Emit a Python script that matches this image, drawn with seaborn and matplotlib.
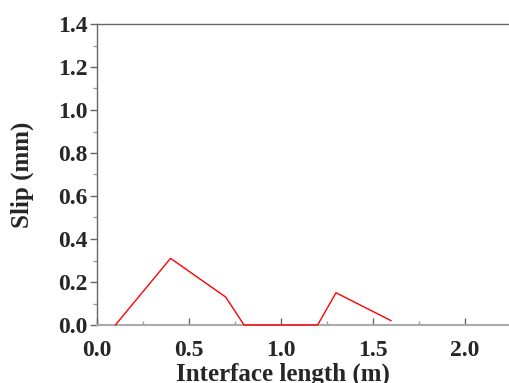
import matplotlib
matplotlib.use("Agg")
import matplotlib.pyplot as plt
import seaborn as sns
import pandas as pd
from matplotlib.ticker import MultipleLocator

x_vals = [0.1, 0.4, 0.7, 0.8, 1.2, 1.3, 1.6]
slip_vals = [0.0, 0.31, 0.13, 0.0, 0.0, 0.15, 0.02]
x_ticks = [0.0, 0.5, 1.0, 1.5, 2.0]
y_ticks = [0.0, 0.2, 0.4, 0.6, 0.8, 1.0, 1.2, 1.4]

sns.set_style("white")
plt.rcParams['font.family'] = ['Liberation Serif', 'DejaVu Serif']
plt.rcParams['font.weight'] = 'bold'

df = pd.DataFrame({"x": x_vals, "slip": slip_vals})

fig = plt.figure(figsize=(5.10, 3.83), dpi=100)
ax = fig.add_axes([97/510, 1 - 325/383, (510 - 97)/510 + 0.002, (325 - 24)/383])
sns.lineplot(data=df, x="x", y="slip", color="red", linewidth=1.0, ax=ax)
for ln in ax.get_lines():
    ln.set_zorder(5)
    ln.set_clip_on(False)

ax.set_xlim(0, 2.252)
ax.set_ylim(0, 1.4)
ax.set_xticks(x_ticks)
ax.set_yticks(y_ticks)
ax.xaxis.set_minor_locator(MultipleLocator(0.25))
ax.yaxis.set_minor_locator(MultipleLocator(0.1))
ax.set_xticklabels([f"{v:.1f}" for v in x_ticks], fontsize=17, fontweight='bold')
ax.set_yticklabels([f"{v:.1f}" for v in y_ticks], fontsize=17, fontweight='bold')

ax.tick_params(axis='y', which='major', direction='out', length=5, width=1, color='#666666', left=True, pad=2)
ax.tick_params(axis='y', which='minor', direction='out', length=3, width=1, color='#999999', left=True)
ax.tick_params(axis='x', which='major', direction='in', length=5, width=1, color='#666666', bottom=True, pad=11)
ax.tick_params(axis='x', which='minor', direction='in', length=3, width=1, color='#999999', bottom=True)

for s in ['left', 'top']:
    ax.spines[s].set_color('#666666')
    ax.spines[s].set_linewidth(1.0)
ax.spines['bottom'].set_color('#aaaaaa')
ax.spines['bottom'].set_linewidth(1.5)
ax.spines['right'].set_visible(False)

ax.set_xlabel("Interface length (m)", fontsize=18, fontweight='bold')
ax.set_ylabel("Slip (mm)", fontsize=18, fontweight='bold')
ax.xaxis.set_label_coords((282 - 97) / (510 - 97), -0.125)
ax.yaxis.set_label_coords(-(97 - 34) / (510 - 97), 0.5)

fig.savefig("out.png", dpi=100)
